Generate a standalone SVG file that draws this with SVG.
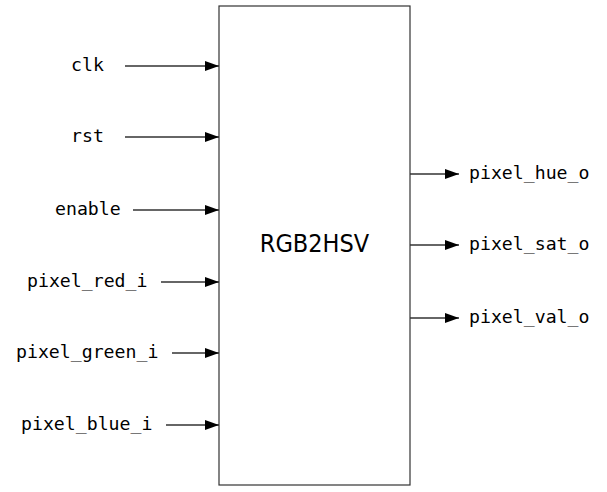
<svg xmlns="http://www.w3.org/2000/svg" width="607" height="492" viewBox="0 0 607 492">
<defs>
<marker id="ah" markerWidth="14" markerHeight="10" refX="14" refY="5" orient="auto" markerUnits="userSpaceOnUse">
<path d="M0,0 L14,5 L0,10 Z" fill="#000"/>
</marker>
<style>
.lbl{font-family:"DejaVu Sans Mono",monospace;font-size:18.2px;fill:#000}
.wire{stroke:#333;stroke-width:1.5;fill:none;marker-end:url(#ah)}
.box{fill:#fff;stroke:#333;stroke-width:1.2}
.title{font-family:"DejaVu Sans Condensed","DejaVu Sans",sans-serif;font-stretch:condensed;font-size:25px;fill:#000;text-anchor:middle}
</style>
</defs>
<rect width="607" height="492" fill="#fff"/>
<g id="rgb2hsv">
<rect class="box" x="219" y="6" width="191" height="479"/>
<text class="title" x="314.5" y="252">RGB2HSV</text>
</g>
<g id="connectors">
<line class="wire" x1="125" y1="66" x2="219" y2="66"/>
<line class="wire" x1="125" y1="137" x2="219" y2="137"/>
<line class="wire" x1="133" y1="210" x2="219" y2="210"/>
<line class="wire" x1="161" y1="282" x2="219" y2="282"/>
<line class="wire" x1="172" y1="353" x2="219" y2="353"/>
<line class="wire" x1="166" y1="425" x2="219" y2="425"/>
<line class="wire" x1="410" y1="174" x2="459" y2="174"/>
<line class="wire" x1="410" y1="245" x2="459" y2="245"/>
<line class="wire" x1="410" y1="318" x2="459" y2="318"/>
</g>
<g id="port-clk"><text class="lbl" x="71" y="71">clk</text></g>
<g id="port-rst"><text class="lbl" x="71" y="142">rst</text></g>
<g id="port-enable"><text class="lbl" x="55" y="215">enable</text></g>
<g id="port-pixel_red_i"><text class="lbl" x="27" y="287">pixel_red_i</text></g>
<g id="port-pixel_green_i"><text class="lbl" x="16" y="358">pixel_green_i</text></g>
<g id="port-pixel_blue_i"><text class="lbl" x="21" y="430">pixel_blue_i</text></g>
<g id="port-pixel_hue_o"><text class="lbl" x="469" y="179">pixel_hue_o</text></g>
<g id="port-pixel_sat_o"><text class="lbl" x="469" y="250">pixel_sat_o</text></g>
<g id="port-pixel_val_o"><text class="lbl" x="469" y="323">pixel_val_o</text></g>
</svg>
